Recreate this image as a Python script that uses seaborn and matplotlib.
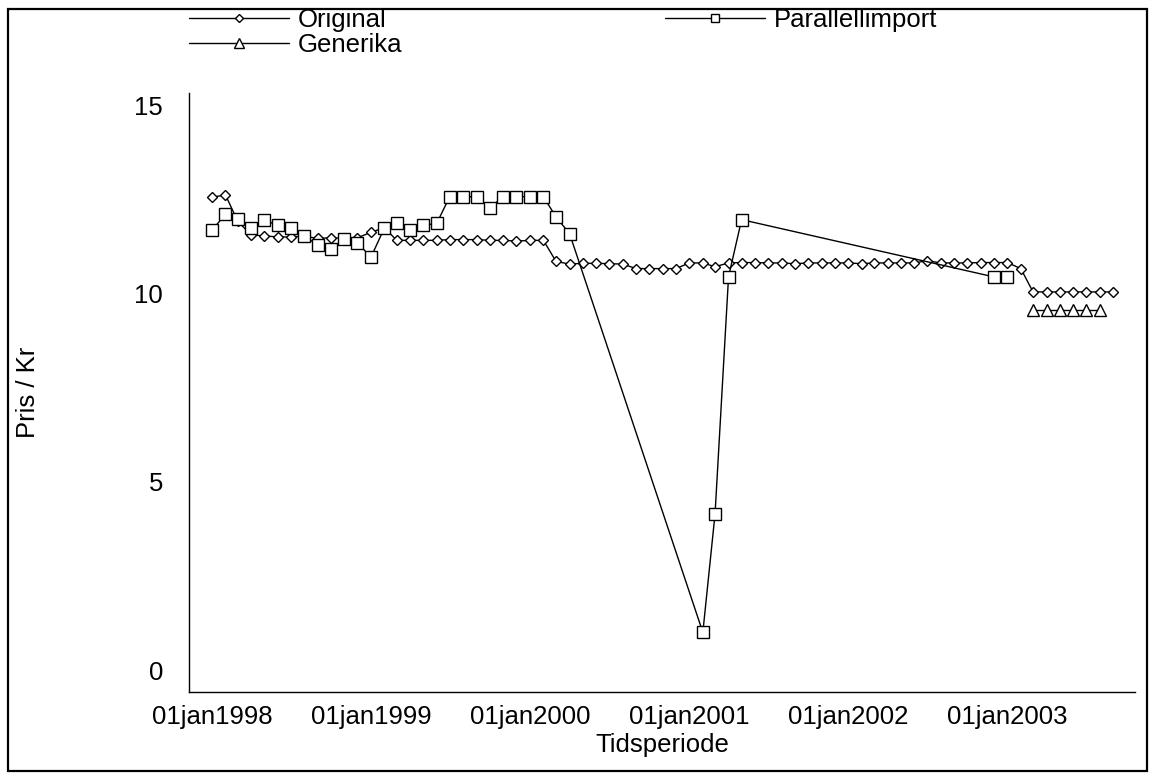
import pandas as pd
import seaborn as sns
import matplotlib.pyplot as plt
from matplotlib.patches import Rectangle

# Original - monthly 1998-01 .. 2003-09
orig_dates = pd.date_range("1998-01-01", "2003-09-01", freq="MS")
orig_vals = [12.55, 12.62, 11.92, 11.55, 11.53, 11.50, 11.50, 11.52, 11.46, 11.48, 11.46, 11.48,
             11.62, 11.75, 11.41, 11.41, 11.41, 11.41, 11.43, 11.43, 11.43, 11.41, 11.41, 11.39,
             11.41, 11.41, 10.85, 10.78, 10.80, 10.80, 10.79, 10.78, 10.66, 10.66, 10.66, 10.66,
             10.81, 10.81, 10.71, 10.81, 10.82, 10.82, 10.81, 10.81, 10.79, 10.81, 10.81, 10.81,
             10.81, 10.79, 10.81, 10.81, 10.81, 10.81, 10.87, 10.81, 10.81, 10.81, 10.82, 10.82,
             10.82, 10.66, 10.04, 10.04, 10.04, 10.04, 10.04, 10.04, 10.04]

# Parallellimport - gaps in the series
par_dates = pd.to_datetime(
    ["1998-01-01", "1998-02-01", "1998-03-01", "1998-04-01", "1998-05-01", "1998-06-01",
     "1998-07-01", "1998-08-01", "1998-09-01", "1998-10-01", "1998-11-01", "1998-12-01",
     "1999-01-01", "1999-02-01", "1999-03-01", "1999-04-01", "1999-05-01", "1999-06-01",
     "1999-07-01", "1999-08-01", "1999-09-01", "1999-10-01", "1999-11-01", "1999-12-01",
     "2000-01-01", "2000-02-01", "2000-03-01", "2000-04-01",
     "2001-02-01", "2001-03-01", "2001-04-01", "2001-05-01",
     "2002-12-01", "2003-01-01"])
par_vals = [11.68, 12.10, 11.99, 11.75, 11.95, 11.81, 11.75, 11.53, 11.28, 11.19, 11.44, 11.35,
            10.96, 11.74, 11.86, 11.68, 11.81, 11.86, 12.57, 12.57, 12.57, 12.28, 12.57, 12.57,
            12.57, 12.57, 12.03, 11.59,
            1.00, 4.14, 10.44, 11.96,
            10.44, 10.44]

# Generika
gen_dates = pd.date_range("2003-03-01", "2003-08-01", freq="MS")
gen_vals = [9.56, 9.56, 9.56, 9.56, 9.56, 9.56]

xticks = pd.date_range("1998-01-01", "2003-01-01", freq="YS")
xtick_labels = ["01jan1998", "01jan1999", "01jan2000", "01jan2001", "01jan2002", "01jan2003"]

sns.set_style("white")
plt.rcParams["font.family"] = ["Liberation Sans", "DejaVu Sans"]
plt.rcParams["font.size"] = 18.5
plt.rcParams["text.color"] = "black"
plt.rcParams["axes.labelcolor"] = "black"
plt.rcParams["xtick.color"] = "black"
plt.rcParams["ytick.color"] = "black"

fig = plt.figure(figsize=(11.52, 7.74), dpi=100)
ax = fig.add_axes([0.1643, 0.1063, 0.8209, 0.7739])

line_kw = dict(color="black", linewidth=1, markerfacecolor="white",
               markeredgecolor="black", markeredgewidth=1)
sns.lineplot(x=orig_dates, y=orig_vals, ax=ax, marker="D", markersize=5, label="Original", **line_kw)
sns.lineplot(x=gen_dates, y=gen_vals, ax=ax, marker="^", markersize=9, label="Generika", **line_kw)
sns.lineplot(x=par_dates, y=par_vals, ax=ax, marker="s", markersize=8.5, label="Parallellimport", **line_kw)

ax.set_xlim(pd.Timestamp("1997-11-10"), pd.Timestamp("2003-10-21"))
ax.set_ylim(-0.576, 15.33)
ax.set_yticks([0, 5, 10, 15])
ax.set_xticks(xticks)
ax.set_xticklabels(xtick_labels)
ax.tick_params(axis="y", length=11, width=1, pad=8, labelsize=18.5)
ax.tick_params(axis="x", length=9.5, width=1, pad=0, labelsize=18.5)
for s in ["top", "right"]:
    ax.spines[s].set_visible(False)
for s in ["left", "bottom"]:
    ax.spines[s].set_color("black")
    ax.spines[s].set_linewidth(1)
ax.set_xlabel("Tidsperiode", fontsize=18.5, labelpad=3)
ax.set_ylabel("Pris / Kr", fontsize=18.5)
ax.yaxis.set_label_coords(-0.158, 0.5)

ax.get_legend().remove()
handles, labels = ax.get_legend_handles_labels()
fig.legend(handles, labels, loc="upper left", bbox_to_anchor=(189 / 1152, 1 - 8 / 774),
           ncol=2, frameon=False, borderpad=0, borderaxespad=0, handlelength=3.9,
           handletextpad=0.35, columnspacing=10.2, labelspacing=0.05, markerscale=0.75,
           fontsize=18.5)

fig.patches.append(Rectangle((8 / 1152, 3 / 774), 1139 / 1152, 762 / 774, transform=fig.transFigure,
                             fill=False, edgecolor="black", linewidth=1.6))

plt.savefig("out.png", dpi=100)
